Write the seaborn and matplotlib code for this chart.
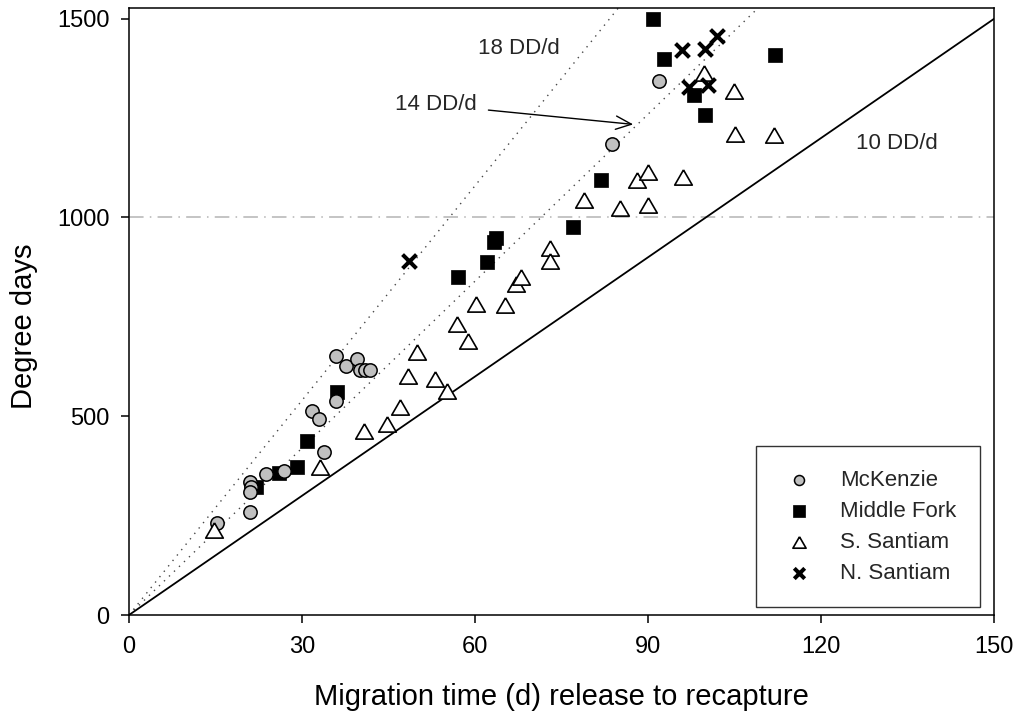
import matplotlib
matplotlib.use("Agg")
import matplotlib.pyplot as plt
import pandas as pd
import seaborn as sns

# Migration time (days) and accumulated degree days for each release group
mckenzie_days = [15.2, 21.0, 20.9, 21.2, 20.9, 23.8, 26.9, 31.7, 32.9, 33.8,
                 35.8, 35.9, 37.7, 39.6, 40.1, 40.9, 41.7, 83.8, 91.9]
mckenzie_dd = [232, 260, 335, 321, 310, 355, 363, 514, 492, 410,
               538, 652, 626, 645, 615, 615, 616, 1185, 1344]

middle_fork_days = [22.1, 26.0, 29.1, 30.9, 36.0, 57.0, 62.1, 63.2, 63.6,
                    76.9, 81.9, 90.8, 92.7, 97.9, 99.9, 112.0]
middle_fork_dd = [321, 358, 372, 438, 562, 851, 887, 937, 949,
                  976, 1093, 1499, 1399, 1308, 1258, 1409]

s_santiam_days = [14.8, 33.1, 40.8, 44.8, 47.0, 48.4, 50.0, 53.1, 55.1, 56.9,
                  58.8, 60.2, 65.2, 67.0, 68.0, 72.9, 73.0, 78.9, 85.2, 88.0,
                  89.9, 89.9, 96.1, 99.7, 104.8, 105.1, 111.8]
s_santiam_dd = [214, 371, 464, 481, 524, 600, 662, 593, 564, 732,
                688, 782, 780, 832, 850, 923, 891, 1044, 1024, 1094,
                1113, 1030, 1101, 1363, 1317, 1210, 1208]

n_santiam_days = [48.5, 95.8, 97.0, 99.9, 100.3, 101.9]
n_santiam_dd = [891, 1420, 1328, 1423, 1332, 1457]

group_names = ["McKenzie", "Middle Fork", "S. Santiam", "N. Santiam"]

# Thermal accumulation rates shown as reference lines (DD per day)
rate_solid = 10
rates_dotted = [14, 18]
dd_threshold = 1000

x_ticks = [0, 30, 60, 90, 120, 150]
y_ticks = [0, 500, 1000, 1500]

frames = []
for name, d, v in zip(group_names,
                      [mckenzie_days, middle_fork_days, s_santiam_days, n_santiam_days],
                      [mckenzie_dd, middle_fork_dd, s_santiam_dd, n_santiam_dd]):
    frames.append(pd.DataFrame({"days": d, "dd": v, "group": name}))
df = pd.concat(frames, ignore_index=True)

sns.set_theme(style="ticks")
plt.rcParams["font.family"] = ["Liberation Sans", "DejaVu Sans"]

fig = plt.figure(figsize=(10.19, 7.21), dpi=100)
ax = fig.add_axes([129 / 1019, 106 / 721, 865.3 / 1019, 606.7 / 721])

# Reference lines
ax.axhline(dd_threshold, color="#c4c4c4", lw=1.4,
           linestyle=(0, (7.5, 3.2, 0.8, 3.2)), zorder=1)
for r in rates_dotted:
    ax.axline((0, 0), slope=r, color="#484848", lw=1.0,
              linestyle=(0, (1, 4.0)), zorder=1)
ax.axline((0, 0), slope=rate_solid, color="black", lw=1.3, zorder=1)

triangle = [(0, 0.75), (-0.866, -0.75), (0.866, -0.75), (0, 0.75)]
styles = {
    "McKenzie": dict(marker="o", s=92, color="#c0c0c0", edgecolor="black",
                     linewidth=1.1, zorder=4),
    "Middle Fork": dict(marker="s", s=112, color="black", edgecolor="black",
                        linewidth=0.5, zorder=3),
    "S. Santiam": dict(marker=triangle, s=160, color="white", edgecolor="black",
                       linewidth=1.2, zorder=5),
    "N. Santiam": dict(marker="x", s=100, color="black", linewidth=2.9, zorder=6),
}

for name in group_names:
    sub = df[df["group"] == name]
    sns.scatterplot(data=sub, x="days", y="dd", ax=ax, label=name,
                    legend=False, **styles[name])

ax.set_xlim(0, 150)
ax.set_ylim(0, 1526)
ax.set_xticks(x_ticks)
ax.set_yticks(y_ticks)
ax.tick_params(axis="both", direction="out", length=6, width=1.1,
               labelsize=17, color="black", labelcolor="black")
ax.tick_params(axis="x", pad=9)
ax.tick_params(axis="y", pad=8)
for sp in ax.spines.values():
    sp.set_visible(True)
    sp.set_color("black")
    sp.set_linewidth(1.1)

ax.set_xlabel("Migration time (d) release to recapture", fontsize=21,
              labelpad=18, color="black")
ax.set_ylabel("Degree days", fontsize=21, labelpad=14, color="black")
ax.yaxis.label.set_y(0.476)

# Rate labels
ax.text(67.5, 1426, "18 DD/d", fontsize=16, ha="center", va="center")
ax.text(133.1, 1187, "10 DD/d", fontsize=16, ha="center", va="center")
ax.annotate("14 DD/d", xy=(87.4, 1234), xytext=(60.3, 1283),
            fontsize=16, ha="right", va="center",
            arrowprops=dict(arrowstyle="->,head_length=0.7,head_width=0.3",
                            lw=1.0, color="black", shrinkA=6, shrinkB=0))

handles, labels = ax.get_legend_handles_labels()
order = [labels.index(n) for n in group_names]
leg = ax.legend([handles[i] for i in order], [labels[i] for i in order],
                loc="lower right", bbox_to_anchor=(0.9835, 0.0132),
                borderaxespad=0, fontsize=16, markerscale=0.75,
                frameon=True, fancybox=False, edgecolor="black",
                labelspacing=0.45, handletextpad=1.0, borderpad=1.05,
                handlelength=1.75)
leg.get_frame().set_linewidth(1.0)

fig.savefig("out.png", dpi=100)
